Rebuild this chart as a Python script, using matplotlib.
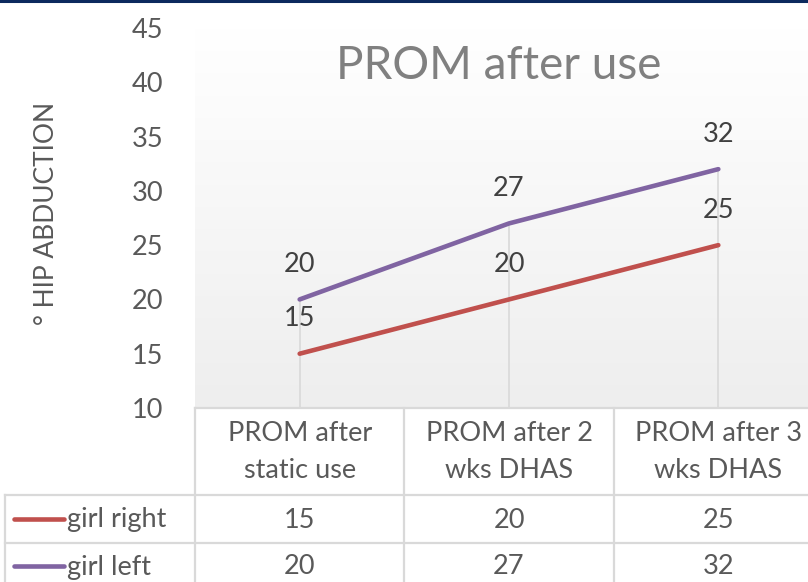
import matplotlib
matplotlib.use("Agg")
import matplotlib.pyplot as plt
import matplotlib.transforms as mtransforms
import numpy as np

categories = ["PROM after\nstatic use", "PROM after 2\nwks DHAS", "PROM after 3\nwks DHAS"]
series_names = ["girl right", "girl left"]
girl_right = [15, 20, 25]
girl_left = [20, 27, 32]
series_values = [girl_right, girl_left]
series_colors = ["#c0504d", "#8064a2"]
y_ticks = [10, 15, 20, 25, 30, 35, 40, 45]
title = "PROM after use"
y_label = "° HIP ABDUCTION"

W, H = 808, 582
DPI = 100
plt.rcParams['font.family'] = ['Lato', 'DejaVu Sans']

fig = plt.figure(figsize=(W / DPI, H / DPI), dpi=DPI)
fig.patch.set_facecolor("white")

# pixel transform (origin top-left)
px = mtransforms.Affine2D().scale(1, -1).translate(0, H)

# plot area in pixels
L, R, T, B = 195, 823, 28, 408
ax = fig.add_axes([L / W, 1 - B / H, (R - L) / W, (B - T) / H])
ax.set_xlim(-0.5, len(categories) - 0.5)
ax.set_ylim(10, 45)
ax.set_facecolor("none")
for s in ax.spines.values():
    s.set_visible(False)

# gradient background
grad = np.linspace(1.0, 0.0, 256).reshape(-1, 1)
top_c = np.array([1.0, 1.0, 1.0])
bot_c = np.array([0xee, 0xee, 0xee]) / 255
img = grad[..., None] * top_c + (1 - grad[..., None]) * bot_c
ax.imshow(img, extent=[0, 1, 0, 1], transform=ax.transAxes, aspect="auto", zorder=0)

x = np.arange(len(categories))

# drop lines
tops = np.max(np.array(series_values), axis=0)
ax.vlines(x, 10, tops, color="#d9d9d9", lw=1.2, zorder=1)

for vals, col in zip(series_values, series_colors):
    ax.plot(x, vals, color=col, lw=3.3, solid_capstyle="round", zorder=3)
    for xi, v in zip(x, vals):
        ax.annotate(str(v), (xi, v), xytext=(0, 25), textcoords="offset points",
                    ha="center", va="center", fontsize=19.5, color="#404040", zorder=4)

ax.set_xticks([])
ax.set_yticks(y_ticks)
ax.set_yticklabels([str(t) for t in y_ticks], fontsize=19.5, color="#595959")
ax.tick_params(axis="y", length=0, pad=23)

# y label
fig.text(47 / W, 1 - 213 / H, y_label, rotation=90, ha="center", va="center",
         fontsize=19, color="#595959")

# title
fig.text(499 / W, 1 - 66 / H, title, ha="center", va="center", fontsize=33, color="#808080")

# data table
grid_c = "#d9d9d9"
blend = mtransforms.blended_transform_factory(ax.transData, px)
rows_y = [408, 495, 543, 591]
lw_t = 1.6
# horizontal lines
fig.add_artist(plt.Line2D([L, W + 20], [408, 408], transform=px, color=grid_c, lw=lw_t))
for yy in rows_y[1:]:
    fig.add_artist(plt.Line2D([5, W + 20], [yy, yy], transform=px, color=grid_c, lw=lw_t))
# vertical lines
for xb in np.arange(-0.5, len(categories) + 0.5, 1.0):
    fig.add_artist(plt.Line2D([xb, xb], [408, 600], transform=blend, color=grid_c, lw=lw_t))
fig.add_artist(plt.Line2D([5, 5], [495, 600], transform=px, color=grid_c, lw=lw_t))

# header
for xi, cat in zip(x, categories):
    fig.text(xi, 452, cat, transform=blend, ha="center", va="center", fontsize=19.5,
             color="#595959", linespacing=1.56)

# rows
row_centers = [520, 567]
for name, vals, col, yc in zip(series_names, series_values, series_colors, row_centers):
    fig.add_artist(plt.Line2D([14, 64], [yc - 1, yc - 1], transform=px, color=col, lw=3.3,
                              solid_capstyle="round"))
    fig.text(67, yc, name, transform=px, ha="left", va="center", fontsize=19.5, color="#595959")
    for xi, v in zip(x, vals):
        fig.text(xi, yc, str(v), transform=blend, ha="center", va="center", fontsize=19.5,
                 color="#595959")

# top border
fig.add_artist(plt.Line2D([0, W], [1.2, 1.2], transform=px, color="#0c2a5e", lw=2.2))

fig.savefig("out.png", dpi=DPI)
